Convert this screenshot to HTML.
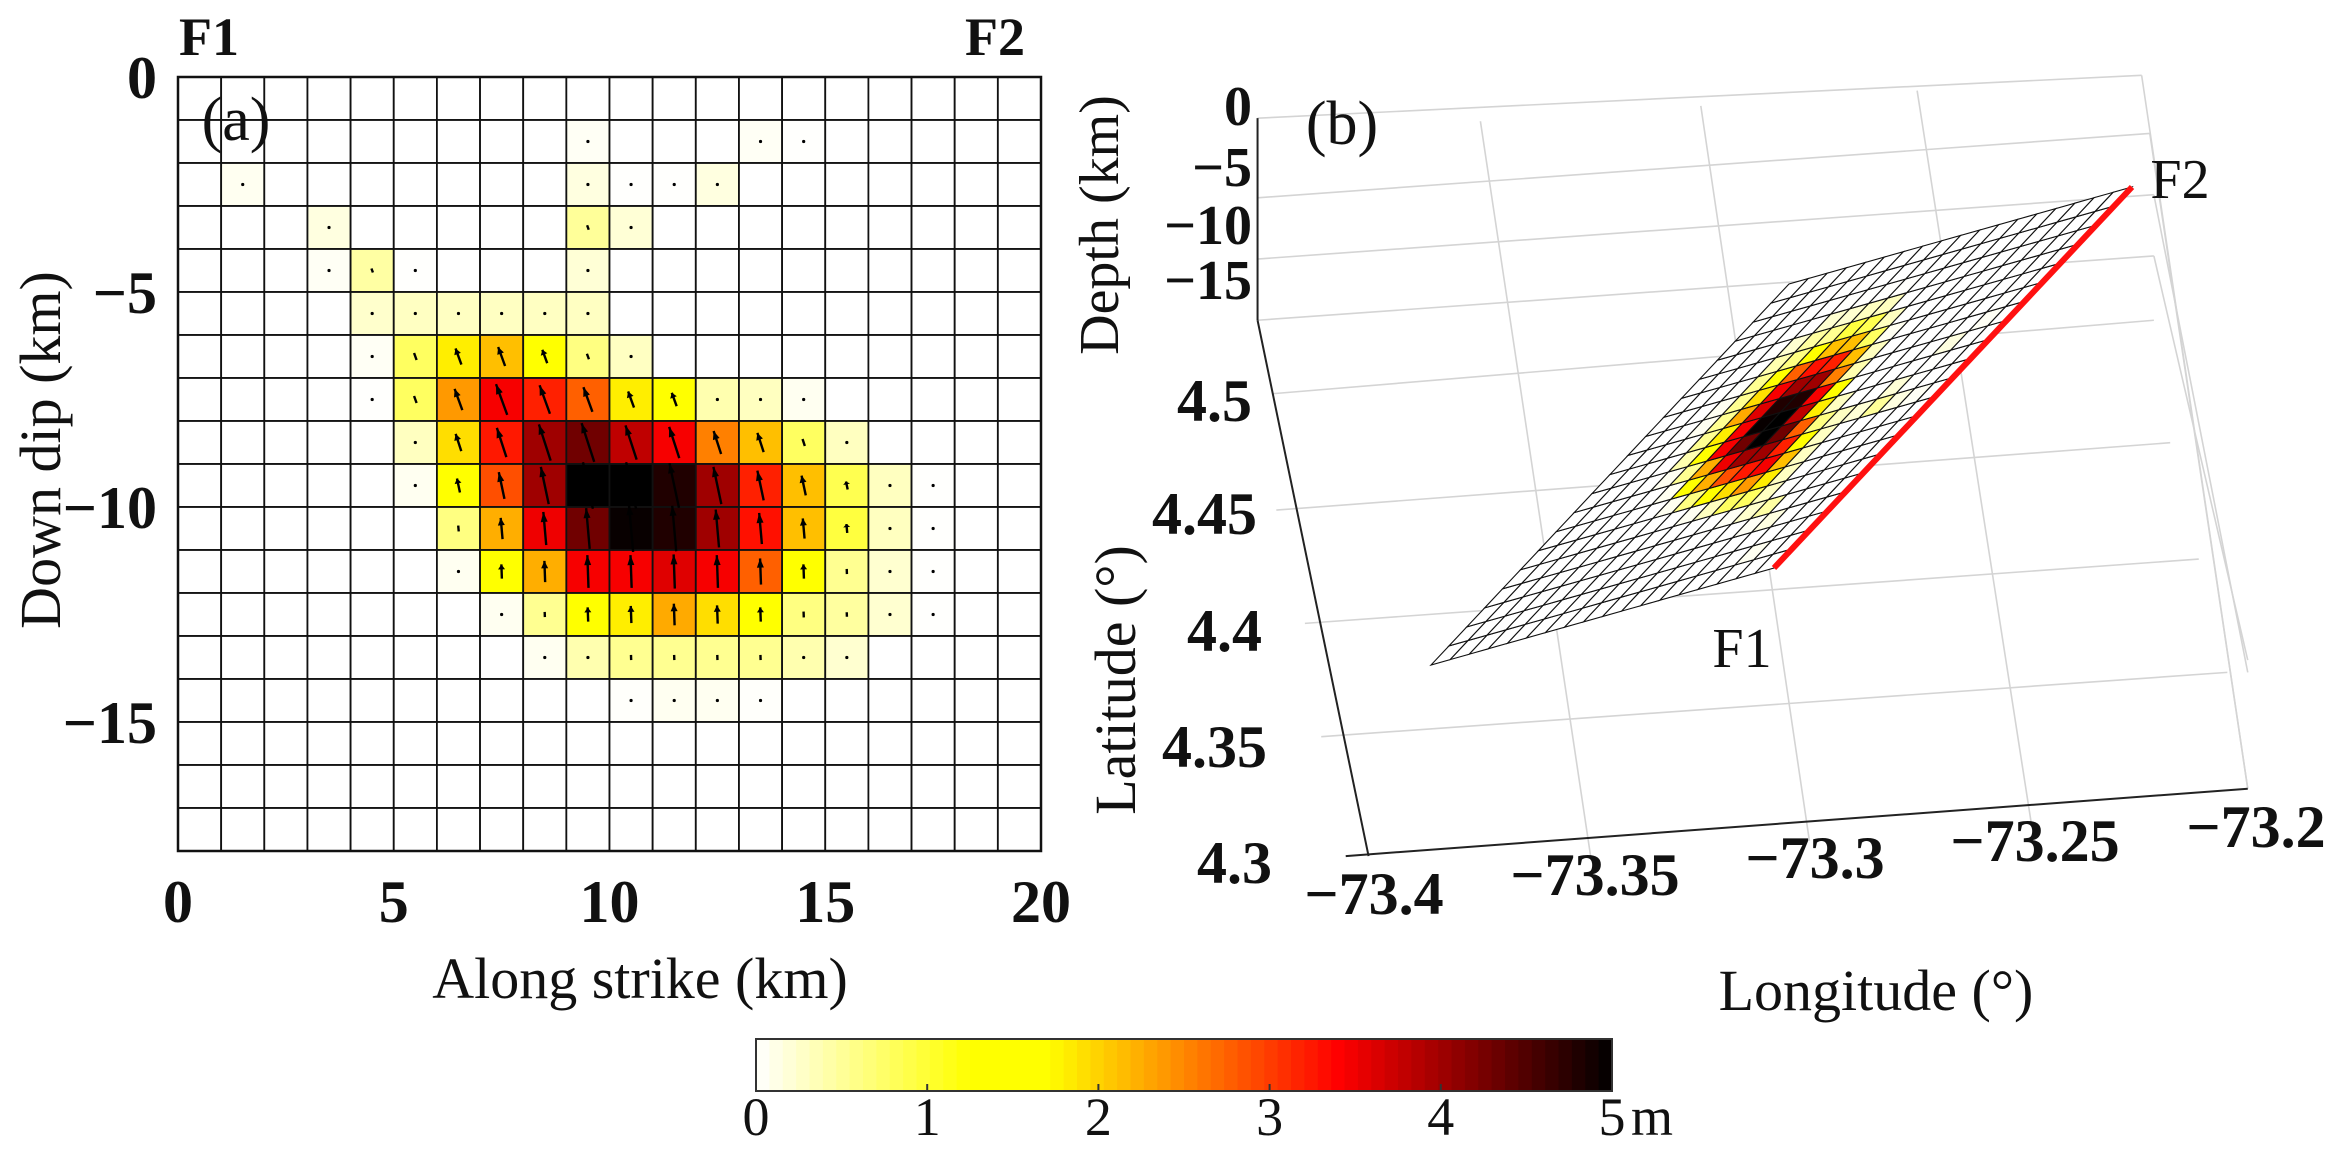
<!DOCTYPE html>
<html><head><meta charset="utf-8"><style>
html,body{margin:0;padding:0;background:#fff}
svg{display:block}
svg text{font-family:"Liberation Serif","Times New Roman","Nimbus Roman","DejaVu Serif",serif;fill:#111}
</style></head><body>
<svg id="fig" width="2341" height="1154" viewBox="0 0 2341 1154" font-family="Liberation Serif, Times New Roman, DejaVu Serif, serif">
<g id="pa"></g>
<g id="pb"></g>
<g id="cb"></g>
</svg>
<script>
// ---- data ----
const nCols = 20;
const nRows = 18;
const xTicks = [0, 5, 10, 15, 20];
const yTicks = [0, -5, -10, -15];
const lonTicks = ["\u221273.4", "\u221273.35", "\u221273.3", "\u221273.25", "\u221273.2"];
const latTicks = ["4.5", "4.45", "4.4", "4.35", "4.3"];
const depthTicks = ["0", "\u22125", "\u221210", "\u221215"];
const cbTicks = [0, 1, 2, 3, 4, 5];
// slip (m) per row (down-dip), per column (along strike)
const slipRows = [
 [0,0,0,0,0,0,0,0,0,0,0,0,0,0,0,0,0,0,0,0],
 [0,0,0,0,0,0,0,0,0,0.05,0,0,0,0.05,0.01,0,0,0,0,0],
 [0,0.07,0,0,0,0,0,0,0,0.15,0.01,0.01,0.15,0,0,0,0,0,0,0],
 [0,0,0,0.15,0,0,0,0,0,0.5,0.2,0,0,0,0,0,0,0,0,0],
 [0,0,0,0.05,0.45,0.01,0,0,0,0.2,0,0,0,0,0,0,0,0,0,0],
 [0,0,0,0,0.25,0.3,0.3,0.3,0.3,0.3,0,0,0,0,0,0,0,0,0,0],
 [0,0,0,0,0.05,0.78,1.81,2.13,1.5,0.62,0.3,0,0,0,0,0,0,0,0,0],
 [0,0,0,0,0.01,0.78,2.38,3.45,3.19,2.76,1.81,1.5,0.39,0.31,0.07,0,0,0,0,0],
 [0,0,0,0,0,0.31,1.92,3.24,4.0,4.3,3.8,3.45,2.55,2.13,0.78,0.31,0,0,0,0],
 [0,0,0,0,0,0.07,1.5,2.87,4.0,5.0,5.0,4.8,4.0,3.19,2.13,0.86,0.31,0.01,0,0],
 [0,0,0,0,0,0,0.62,2.24,3.5,4.3,4.95,4.8,4.0,3.29,2.13,0.94,0.31,0.01,0,0],
 [0,0,0,0,0,0,0.07,1.5,2.24,3.45,3.45,3.6,3.45,2.76,1.5,0.54,0.23,0.01,0,0],
 [0,0,0,0,0,0,0,0.07,0.54,1.5,1.81,2.27,1.92,1.5,0.62,0.47,0.23,0.01,0,0],
 [0,0,0,0,0,0,0,0,0.07,0.39,0.54,0.54,0.54,0.54,0.39,0.23,0,0,0,0],
 [0,0,0,0,0,0,0,0,0,0,0.02,0.07,0.07,0.02,0,0,0,0,0,0],
 [0,0,0,0,0,0,0,0,0,0,0,0,0,0,0,0,0,0,0,0],
 [0,0,0,0,0,0,0,0,0,0,0,0,0,0,0,0,0,0,0,0],
 [0,0,0,0,0,0,0,0,0,0,0,0,0,0,0,0,0,0,0,0]
];
// rake tilt from vertical per row (deg, positive = head tilts left)
const rowTilt = [20,20,20,20,20,20,20,20,18,12,5,2,2,2,2,2,2,2];

const NS = "http://www.w3.org/2000/svg";
const FONT = '"Liberation Serif","Times New Roman","Nimbus Roman","DejaVu Serif",serif';
function mk(tag, attrs, parent){ const e=document.createElementNS(NS,tag); for(const k in attrs) e.setAttribute(k,attrs[k]); parent.appendChild(e); return e; }
function txt(s, x, y, size, parent, opts){ opts=opts||{}; const t=mk('text',{x:x,y:y,'font-size':size,'text-anchor':opts.anchor||'middle'},parent); t.style.fontFamily=FONT; if(opts.bold) t.setAttribute('font-weight','bold'); if(opts.rot) t.setAttribute('transform','rotate('+opts.rot+' '+x+' '+y+')'); t.textContent=s; return t; }

function cmap(v){
  v=Math.max(0,Math.min(5,v));
  let r,g,b;
  if(v<1.25){ const t=v/1.25; r=255; g=255; b=255*(1-t); }
  else if(v<1.7){ r=255; g=255; b=0; }
  else if(v<3.4){ const t=(v-1.7)/1.7; r=255; g=255*(1-t); b=0; }
  else { const t=(v-3.4)/1.6; r=255*(1-t); g=0; b=0; }
  return 'rgb('+Math.round(r)+','+Math.round(g)+','+Math.round(b)+')';
}

// ---- panel a ----
const pa=document.getElementById('pa');
const AX0=178, AX1=1041, AY0=77, AKM=43.0;
const sx = km => AX0 + (AX1-AX0)*km/20;
const sy = d => AY0 - d*AKM;
const cw=(AX1-AX0)/nCols;
for(let r=0;r<nRows;r++){
  for(let c=0;c<nCols;c++){
    const v=slipRows[r][c];
    const rc=mk('rect',{x:sx(c*20/nCols),y:sy(-r),width:cw,height:AKM,fill:cmap(v),stroke:'#111','stroke-width':1.8},pa);
    
    
  }
}
for(let r=0;r<nRows;r++){
  for(let c=0;c<nCols;c++){
    const v=slipRows[r][c];
    if(v<=0) continue;
    const cx=sx(c*20/nCols)+cw/2, cy=sy(-r)+AKM/2;
    const L=v*9.5, th=rowTilt[r]*Math.PI/180;
    const dx=-Math.sin(th), dy=-Math.cos(th);
    if(L<4){ const d=mk('circle',{cx:cx,cy:cy,r:1.6,fill:'#000'},pa);   continue; }
    const x0=cx-dx*L/2, y0=cy-dy*L/2, x1=cx+dx*L/2, y1=cy+dy*L/2;
    const g=mk('g',{},pa);
    
    
    mk('line',{x1:x0,y1:y0,x2:x1,y2:y1,stroke:'#000','stroke-width':2.4},g);
    if(L>8){ const h=Math.min(10,L*0.35), w=3.5, px=-dy, py=dx;
      mk('polygon',{points:[x1,y1, x1-dx*h+px*w, y1-dy*h+py*w, x1-dx*h-px*w, y1-dy*h-py*w].join(','),fill:'#000'},g); }
  }
}
mk('rect',{x:AX0,y:AY0,width:AX1-AX0,height:nRows*AKM,fill:'none',stroke:'#111','stroke-width':2.5},pa);
xTicks.forEach(t=>{ const e=txt(String(t),sx(t),922,60,pa,{bold:true});   });
yTicks.forEach(t=>{ const e=txt(t===0?'0':'\u2212'+(-t),157,sy(t)+21,60,pa,{bold:true,anchor:'end'});   });
let e;
e=txt('Along strike (km)',640,998,58,pa);  
e=txt('Down dip (km)',60,450,58,pa,{rot:-90});  
e=txt('F1',209,55,54,pa,{bold:true});  
e=txt('F2',995,55,54,pa,{bold:true});  
e=txt('(a)',236,140,62,pa);  

// ---- panel b ----
const pb=document.getElementById('pb');
const D=(x,y)=>[x/1.225+1060, y/1.633+60];
const gl=(a,b)=>{ const p=D(a[0],a[1]), q=D(b[0],b[1]); const l=mk('line',{x1:p[0],y1:p[1],x2:q[0],y2:q[1],stroke:'#d4d4d4','stroke-width':1.6},pb);   };
[[[260,545],[1340,425]],[[265,735],[1360,625]],[[300,920],[1395,815]],[[320,1105],[1430,1000]],
 [[242,95],[1325,25]],[[242,225],[1335,120]],[[242,325],[1340,220]],[[242,425],[1340,320]],
 [[650,1300],[515,100]],[[918,1275],[785,75]],[[1190,1248],[1050,50]],
 [[1325,25],[1455,1190]],[[1335,120],[1455,1190]],[[1340,220],[1455,1000]],[[1340,320],[1455,980]]
].forEach(s=>gl(s[0],s[1]));
const axl=(a,b,w)=>{ const p=D(a[0],a[1]), q=D(b[0],b[1]); const l=mk('line',{x1:p[0],y1:p[1],x2:q[0],y2:q[1],stroke:'#222','stroke-width':w||2},pb);   };
axl([242,95],[242,425]); axl([242,425],[378,1300]); axl([350,1300],[1455,1190]);
const F1=[1774,568], F2=[2132,187], BL=[1431,665];
const P=(c,r)=>[F1[0]+(c/nCols)*(F2[0]-F1[0])+(r/nRows)*(BL[0]-F1[0]), F1[1]+(c/nCols)*(F2[1]-F1[1])+(r/nRows)*(BL[1]-F1[1])];
for(let r=0;r<nRows;r++){
  for(let c=0;c<nCols;c++){
    const pts=[P(c,r),P(c+1,r),P(c+1,r+1),P(c,r+1)].map(p=>p.join(',')).join(' ');
    const pg=mk('polygon',{points:pts,fill:cmap(slipRows[r][c]),stroke:'#111','stroke-width':1.1},pb);
    
    
  }
}
const red=mk('line',{x1:F1[0],y1:F1[1],x2:F2[0],y2:F2[1],stroke:'#ff1010','stroke-width':6},pb);


const depthY=[106,167,225,280];
depthTicks.forEach((t,i)=>{ const e=txt(t,1252,depthY[i]+19,56,pb,{bold:true,anchor:'end'});   });
const latY=[400,513,630,746,862];
latTicks.forEach((t,i)=>{ const e=txt(t,1252+i*5,latY[i]+21,60,pb,{bold:true,anchor:'end'});   });
const lonXY=[[1374,893],[1595,874],[1815,857],[2035,840],[2256,826]];
lonTicks.forEach((t,i)=>{ const e=txt(t,lonXY[i][0],lonXY[i][1]+21,60,pb,{bold:true});   });
e=txt('Depth (km)',1118,225,56,pb,{rot:-90});  
e=txt('Latitude (\u00b0)',1135,680,58,pb,{rot:-90});  
e=txt('Longitude (\u00b0)',1876,1010,58,pb);  
e=txt('F1',1742,667,56,pb);  
e=txt('F2',2180,198,56,pb);  
e=txt('(b)',1342,144,62,pb);  

// ---- colorbar ----
const cb=document.getElementById('cb');
const CX0=756, CX1=1612, CY0=1039, CY1=1091;
const cx=v=>CX0+(CX1-CX0)*v/5;
for(let i=0;i<64;i++){ const v=(i+0.5)*5/64; const rr=mk('rect',{x:cx(i*5/64),y:CY0,width:(CX1-CX0)/64+0.6,height:CY1-CY0,fill:cmap(v)},cb);   }
mk('rect',{x:CX0,y:CY0,width:CX1-CX0,height:CY1-CY0,fill:'none',stroke:'#333','stroke-width':2},cb);
cbTicks.forEach(t=>{ if(t>0){ mk('line',{x1:cx(t),y1:CY1,x2:cx(t),y2:CY1-7,stroke:'#333','stroke-width':2},cb);} const e=txt(String(t),cx(t),1135,54,cb);   });
e=txt('m',1652,1135,54,cb);  
</script>
</body></html>
